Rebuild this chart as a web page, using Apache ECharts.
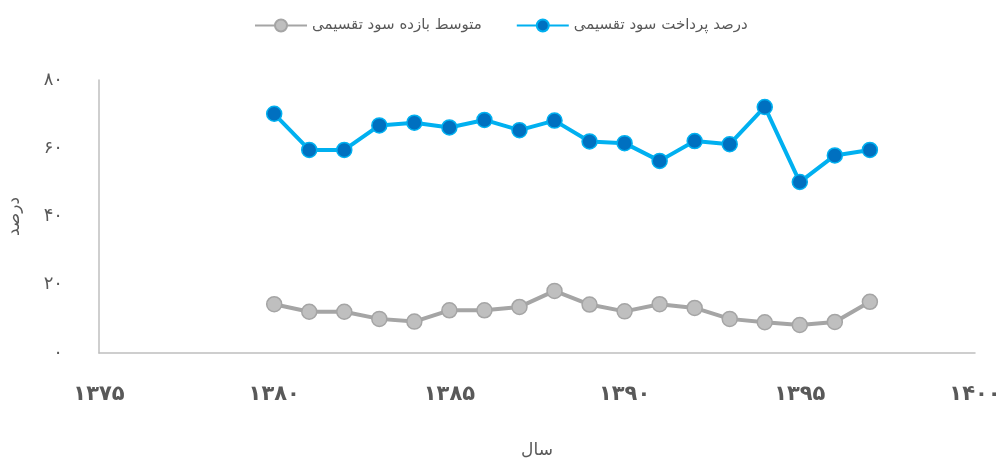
<!DOCTYPE html>
<html style="height: 100%">
<head>
    <meta charset="utf-8">
</head>
<body style="height: 100%; margin: 0; background: #fff">
<div id="container" style="width: 998px; height: 462px"></div>
<script type="text/javascript" src="https://cdn.jsdelivr.net/npm/echarts@6/dist/echarts.min.js"></script>
<script type="text/javascript">
    var years = [1380, 1381, 1382, 1383, 1384, 1385, 1386, 1387, 1388,
                 1389, 1390, 1391, 1392, 1393, 1394, 1395, 1396, 1397];
    // درصد پرداخت سود تقسیمی
    var payout = [70.1, 59.5, 59.5, 66.7, 67.5, 66.1, 68.3, 65.3, 68.1,
                  62.0, 61.5, 56.3, 62.1, 61.2, 72.1, 50.1, 57.9, 59.5];
    // متوسط بازده سود تقسیمی
    var yieldAvg = [14.3, 12.1, 12.1, 10.0, 9.2, 12.5, 12.5, 13.5, 18.2,
                    14.2, 12.2, 14.3, 13.2, 10.0, 9.0, 8.2, 9.1, 15.0];
    var seriesNames = ['درصد پرداخت سود تقسیمی', 'متوسط بازده سود تقسیمی'];

    var faDigits = '۰۱۲۳۴۵۶۷۸۹';
    function toFa(n) {
        return String(n).replace(/\d/g, function (d) { return faDigits[+d]; });
    }
    function pairs(xs, ys) {
        var out = [];
        for (var i = 0; i < xs.length; i++) out.push([xs[i], ys[i]]);
        return out;
    }

    var font = 'DejaVu Sans';
    var myChart = echarts.init(document.getElementById('container'));
    var option = {
        animation: false,
        textStyle: {fontFamily: font},
        legend: {
            top: 13,
            left: 249,
            align: 'left',
            itemWidth: 52,
            itemHeight: 15,
            itemGap: 34,
            textStyle: {color: '#595959', fontSize: 15, fontFamily: font},
            data: [seriesNames[1], seriesNames[0]]
        },
        grid: {left: 99, right: 23, top: 80, bottom: 109, outerBoundsMode: 'none'},
        xAxis: {
            type: 'value',
            min: 1375,
            max: 1400,
            interval: 5,
            name: 'سال',
            nameLocation: 'middle',
            nameGap: 89,
            nameTextStyle: {color: '#595959', fontSize: 17, fontFamily: font},
            axisLine: {show: true, lineStyle: {color: '#BFBFBF', width: 1.5}},
            axisTick: {show: false},
            splitLine: {show: false},
            axisLabel: {
                color: '#595959', fontSize: 21, fontWeight: 'bold', margin: 31,
                fontFamily: font,
                formatter: function (v) { return toFa(v); }
            }
        },
        yAxis: {
            type: 'value',
            min: 0,
            max: 80,
            interval: 20,
            name: 'درصد',
            nameLocation: 'middle',
            nameRotate: 90,
            nameGap: 76,
            nameTextStyle: {color: '#595959', fontSize: 17, fontFamily: font},
            axisLine: {show: true, lineStyle: {color: '#BFBFBF', width: 1.5}},
            axisTick: {show: false},
            splitLine: {show: false},
            axisLabel: {
                color: '#595959', fontSize: 18, margin: 36,
                fontFamily: font,
                formatter: function (v) { return toFa(v); }
            }
        },
        series: [
            {
                name: seriesNames[0],
                type: 'line',
                symbol: 'circle',
                symbolSize: 15,
                lineStyle: {color: '#00B0F0', width: 4},
                itemStyle: {color: '#0070C0', borderColor: '#00B0F0', borderWidth: 1.5},
                data: pairs(years, payout)
            },
            {
                name: seriesNames[1],
                type: 'line',
                symbol: 'circle',
                symbolSize: 15,
                lineStyle: {color: '#A5A5A5', width: 4},
                itemStyle: {color: '#BFBFBF', borderColor: '#A5A5A5', borderWidth: 1.5},
                data: pairs(years, yieldAvg)
            }
        ]
    };
    myChart.setOption(option);
</script>
</body>
</html>
